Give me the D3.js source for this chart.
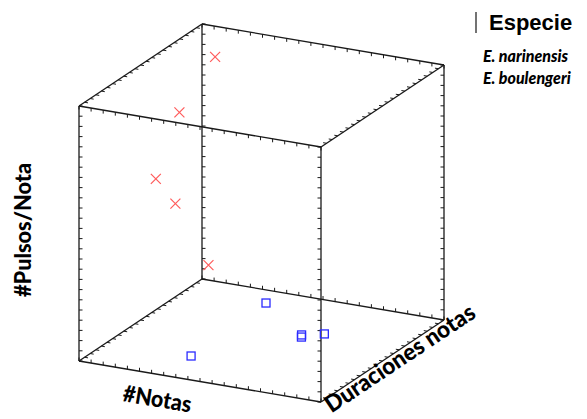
<!DOCTYPE html>
<html>
<head>
<meta charset="utf-8">
<script src="https://cdn.jsdelivr.net/npm/d3@7"></script>
<style>
  html, body { margin: 0; padding: 0; background: #fff; }
  svg { display: block; }
</style>
</head>
<body>
<svg id="chart" width="587" height="419"></svg>
<script>
// Species and per-call measurements
const especies = ["E. narinensis", "E. boulengeri"];

const narNotas   = [2.1, 2.2, 3.3, 3.9, 4.6];
const narDur     = [0.198, 0.132, 0.066, 0.088, 0.132];
const narPulsos  = [23, 20, 16.1, 13, 5.5];

const bouNotas   = [7.6, 7.9, 13.1, 13.3, 14.5];
const bouDur     = [0.170, 0.0295, 0.1146, 0.110, 0.125];
const bouPulsos  = [1, 1, 1, 1, 1];

// Axis domains and tick steps
const notasDomain = [0, 20],  notasStep = 1;
const durDomain   = [0, 0.22], durStep = 0.01;
const pulsDomain  = [0, 25],  pulsStep = 1;

const axisTitles = { x: "#Notas", y: "Duraciones notas", z: "#Pulsos/Nota" };

// ---- projection of the unit cube onto the page ----
const origin = [79, 361];          // front-bottom-left corner
const ex = [242, 41];              // #Notas direction
const ey = [123, -82];             // depth (Duraciones) direction
const ez = [0, -255];              // vertical (#Pulsos/Nota)

const sx = d3.scaleLinear().domain(notasDomain).range([0, 1]);
const sy = d3.scaleLinear().domain(durDomain).range([0, 1]);
const sz = d3.scaleLinear().domain(pulsDomain).range([0, 1]);

function proj(u, v, w) {
  return [origin[0] + u * ex[0] + v * ey[0] + w * ez[0],
          origin[1] + u * ex[1] + v * ey[1] + w * ez[1]];
}
function unit(vec) { const l = Math.hypot(vec[0], vec[1]); return [vec[0] / l, vec[1] / l]; }

const svg = d3.select("#chart");
const gBox = svg.append("g");
const edgeColor = "#1a1a1a";

// 12 edges of the box; each with a tick direction pointing into the face
const edges = [];
for (const v of [0, 1]) for (const w of [0, 1])
  edges.push({ axis: "x", fixed: [v, w], tickDir: w === 0 ? [0, -1] : [0, 1] });
for (const u of [0, 1]) for (const w of [0, 1])
  edges.push({ axis: "y", fixed: [u, w], tickDir: u === 0 ? unit(ex) : unit([-ex[0], -ex[1]]) });
for (const u of [0, 1]) for (const v of [0, 1])
  edges.push({ axis: "z", fixed: [u, v], tickDir: u === 0 ? [1, 0] : [-1, 0] });

function pointOn(e, t) {
  if (e.axis === "x") return proj(t, e.fixed[0], e.fixed[1]);
  if (e.axis === "y") return proj(e.fixed[0], t, e.fixed[1]);
  return proj(e.fixed[0], e.fixed[1], t);
}

const line = d3.line();
edges.forEach(e => {
  gBox.append("path")
    .attr("d", line([pointOn(e, 0), pointOn(e, 1)]))
    .attr("stroke", edgeColor).attr("stroke-width", 1.3).attr("fill", "none");

  const scale = e.axis === "x" ? sx : e.axis === "y" ? sy : sz;
  const step = e.axis === "x" ? notasStep : e.axis === "y" ? durStep : pulsStep;
  const dom = scale.domain();
  const ticks = d3.range(dom[0], dom[1] + step / 2, step);
  ticks.forEach(t => {
    const p = pointOn(e, scale(t));
    const len = 3.5;
    gBox.append("line")
      .attr("x1", p[0]).attr("y1", p[1])
      .attr("x2", p[0] + e.tickDir[0] * len).attr("y2", p[1] + e.tickDir[1] * len)
      .attr("stroke", edgeColor).attr("stroke-width", 1);
  });
});

// ---- points ----
const gPts = svg.append("g");
narNotas.forEach((n, i) => {
  const p = proj(sx(n), sy(narDur[i]), sz(narPulsos[i]));
  const r = 5;
  gPts.append("path")
    .attr("d", `M${p[0]-r},${p[1]-r}L${p[0]+r},${p[1]+r}M${p[0]-r},${p[1]+r}L${p[0]+r},${p[1]-r}`)
    .attr("stroke", "#ff5c5c").attr("stroke-width", 1.2).attr("fill", "none");
});
bouNotas.forEach((n, i) => {
  const p = proj(sx(n), sy(bouDur[i]), sz(bouPulsos[i]));
  const s = 8;
  gPts.append("rect")
    .attr("x", p[0] - s / 2).attr("y", p[1] - s / 2)
    .attr("width", s).attr("height", s)
    .attr("stroke", "#2b2bff").attr("stroke-width", 1.3).attr("fill", "none");
});

// ---- axis titles ----
const titleFont = "Lato, 'Open Sans', sans-serif";
const angX = Math.atan2(ex[1], ex[0]) * 180 / Math.PI;
const angY = Math.atan2(ey[1], ey[0]) * 180 / Math.PI;

svg.append("text")
  .attr("transform", `translate(157,401) rotate(${angX})`)
  .attr("text-anchor", "middle").attr("dominant-baseline", "middle")
  .style("font-family", titleFont).style("font-weight", "900").style("font-size", "23px")
  .attr("textLength", 69).attr("lengthAdjust", "spacingAndGlyphs")
  .text(axisTitles.x);

svg.append("text")
  .attr("transform", `translate(401,360) rotate(${angY})`)
  .attr("text-anchor", "middle").attr("dominant-baseline", "middle")
  .style("font-family", titleFont).style("font-weight", "900").style("font-size", "23.5px")
  .attr("textLength", 175).attr("lengthAdjust", "spacingAndGlyphs")
  .text(axisTitles.y);

svg.append("text")
  .attr("transform", `translate(25,230) rotate(-90)`)
  .attr("text-anchor", "middle").attr("dominant-baseline", "middle")
  .style("font-family", titleFont).style("font-weight", "900").style("font-size", "23px")
  .attr("textLength", 134).attr("lengthAdjust", "spacingAndGlyphs")
  .text(axisTitles.z);

// ---- legend ----
const gLeg = svg.append("g");
gLeg.append("line").attr("x1", 476).attr("x2", 476).attr("y1", 12).attr("y2", 33)
  .attr("stroke", "#444").attr("stroke-width", 1.5);
gLeg.append("text").attr("x", 489).attr("y", 30)
  .style("font-family", "'Liberation Sans', Arial, sans-serif").style("font-weight", "bold")
  .style("font-size", "22px")
  .text("Especie");
especies.forEach((sp, i) => {
  gLeg.append("text").attr("x", 483).attr("y", 62 + i * 22)
    .style("font-family", titleFont).style("font-weight", "900").style("font-style", "italic")
    .style("font-size", "16px")
    .text(sp);
});
</script>
</body>
</html>
